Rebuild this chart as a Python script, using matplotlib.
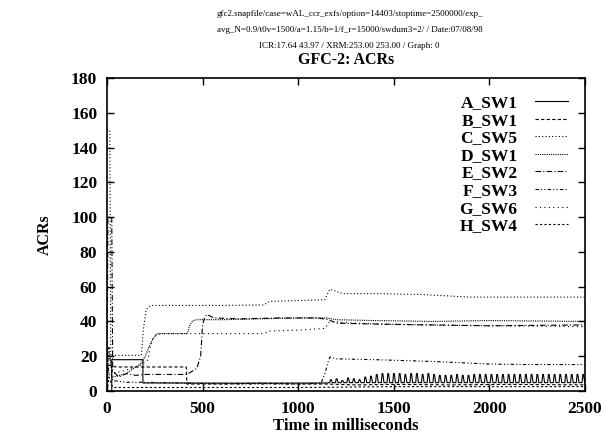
import matplotlib
matplotlib.use("Agg")
import matplotlib.pyplot as plt

plt.rcParams['font.family'] = ['Liberation Serif', 'DejaVu Serif']

header = [
    "gfc2.snapfile/case=wAL_ccr_exfs/option=14403/stoptime=2500000/exp_",
    "avg_N=0.9/t0v=1500/a=1.15/b=1/f_r=15000/swdum3=2/ / Date:07/08/98",
    "ICR:17.64 43.97 / XRM:253.00 253.00 / Graph: 0",
]
title = "GFC-2: ACRs"
labels = ["A_SW1", "B_SW1", "C_SW5", "D_SW1", "E_SW2", "F_SW3", "G_SW6", "H_SW4"]

# A_SW1 (solid): step then pulsing after ~1150 ms
a_t = [0, 25, 25, 188, 188, 400, 700, 1000, 1150]
a_v = [0, 0, 18, 18, 4.6, 4.6, 4.5, 4.6, 4.6]
a_pulse_t = [1165, 1195, 1225, 1255, 1285, 1315, 1345, 1375, 1405, 1435, 1465,
             1495, 1525, 1555, 1585, 1615, 1645, 1675, 1705, 1735, 1765, 1795,
             1825, 1855, 1885, 1915, 1945, 1975, 2005, 2035, 2065, 2095, 2125,
             2155, 2185, 2215, 2245, 2275, 2305, 2335, 2365, 2395, 2425, 2455, 2485]
a_pulse_h = [6.5, 7, 6, 7.5, 7, 6.5, 8, 8.5, 9.5, 10, 10, 10, 10, 9.5, 10,
             10, 9.5, 10, 9.5, 9, 9, 9, 9.5, 9, 9, 9.5, 9.5, 9.5, 9.5, 9.5,
             9.5, 9.5, 9.5, 9.5, 9.5, 9.5, 9.5, 9.5, 9.5, 9.5, 9.5, 9.5, 9.5, 9.5, 9.5]
a_base = 4.8

b_t = [0, 10, 30, 60, 100, 150, 200, 300, 415, 418, 600, 800, 1000, 1150, 1300, 1500, 1800, 2100, 2500]
b_v = [5, 15, 14, 13.8, 13.8, 13.8, 13.8, 13.8, 13.8, 4, 4, 4.5, 4, 4, 3.5, 3.8, 3.5, 3.8, 3.5]

c_t = [0, 5, 15, 20, 30, 100, 180, 190, 205, 230, 400, 600, 820, 850, 1000, 1140, 1165, 1235, 1400, 1640, 1900, 2200, 2500]
c_v = [150, 150, 150, 20, 20.5, 20.5, 20.5, 35, 47, 49.2, 49.2, 49.2, 49.5, 51.5, 52, 52.5, 58.5, 56, 56, 55.5, 54, 54, 54]

d_t = [0, 10, 30, 100, 180, 200, 230, 260, 420, 434, 450, 470, 600, 800, 1000, 1150, 1200, 1400, 1700, 2000, 2500]
d_v = [25, 10, 8, 10, 16, 20, 28, 33, 33, 38, 40.5, 41, 41, 41.5, 42, 42, 41, 40.5, 40, 40.5, 40]

e_t = [0, 5, 25, 30, 60, 100, 150, 200, 300, 418, 440, 470, 490, 500, 510, 523, 560, 700, 900, 1100, 1160, 1200, 1400, 1700, 2000, 2500]
e_v = [0, 100, 100, 12, 8, 10, 9, 9.5, 9.5, 9.5, 11, 13, 20, 38, 42, 44, 42, 41.5, 42, 42, 41, 39, 38.5, 38, 37.5, 38]

f_t = [0, 10, 30, 100, 200, 400, 700, 1000, 1120, 1140, 1160, 1167, 1200, 1400, 1700, 2000, 2200, 2500]
f_v = [10, 25, 6, 5, 5, 4.5, 4, 4, 4.5, 10, 18, 19.6, 18.5, 18, 17, 15.5, 15.2, 15.2]

g_t = [0, 10, 30, 100, 180, 215, 225, 240, 260, 300, 400, 600, 820, 850, 1000, 1140, 1165, 1300, 1600, 2000, 2500]
g_v = [20, 22, 10, 12, 15, 18, 25, 30, 32.5, 33, 33, 33, 33, 34.5, 35, 36, 40, 39, 38, 37.5, 37]

h_t = [0, 10, 30, 100, 200, 500, 1000, 1500, 2000, 2500]
h_v = [0, 8, 2, 2, 2, 2, 2, 2.5, 2.5, 2.5]

# build A's pulse train from the read peaks
for t, h in zip(a_pulse_t, a_pulse_h):
    a_t += [t, t + 4, t + 8, t + 14]
    a_v += [a_base, h, h, a_base]
a_t.append(2500)
a_v.append(a_base)

styles = [
    dict(ls='-'),
    dict(ls=(0, (3, 2))),
    dict(ls=(0, (1, 2))),
    dict(ls=(0, (1, 1))),
    dict(ls=(0, (5, 2, 1, 2))),
    dict(ls=(0, (3, 2, 1, 2, 1, 2))),
    dict(ls=(0, (1, 3))),
    dict(ls=(0, (2, 2))),
]
series = [(a_t, a_v), (b_t, b_v), (c_t, c_v), (d_t, d_v),
          (e_t, e_v), (f_t, f_v), (g_t, g_v), (h_t, h_v)]

fig = plt.figure(figsize=(6.03, 4.40), dpi=100)
ax = fig.add_axes([0.1774, 0.1114, 0.7926, 0.7113])

for (t, v), lab, st in zip(series, labels, styles):
    ax.plot(t, v, color='black', lw=0.8, label=lab, **st)

ax.set_xlim(0, 2500)
ax.set_ylim(0, 180)
ax.set_xticks([0, 500, 1000, 1500, 2000, 2500])
ax.set_yticks(range(0, 181, 20))
ax.tick_params(direction='in', top=True, right=True, length=5, width=1,
               labelsize=12.5, pad=7)
for lb in ax.get_xticklabels() + ax.get_yticklabels():
    lb.set_fontweight('bold')
for sp in ax.spines.values():
    sp.set_linewidth(1.2)

ax.set_xlabel("Time in milliseconds", fontsize=12, fontweight='bold', labelpad=1)
ax.set_ylabel("ACRs", fontsize=11.5, fontweight='bold', labelpad=13)
ax.set_title(title, fontsize=11.5, fontweight='bold', pad=10)

for i, line in enumerate(header):
    fig.text(0.58, 1 - (14 + 16 * i) / 440, line, ha='center', va='center', fontsize=6.5)

leg = ax.legend(loc='upper right', bbox_to_anchor=(0.964, 0.945), markerfirst=False,
                frameon=False, handlelength=1.9, labelspacing=0.08,
                borderaxespad=0, borderpad=0,
                prop=dict(weight='bold', size=12.5), handletextpad=1.0)

fig.savefig("out.png", dpi=100)
